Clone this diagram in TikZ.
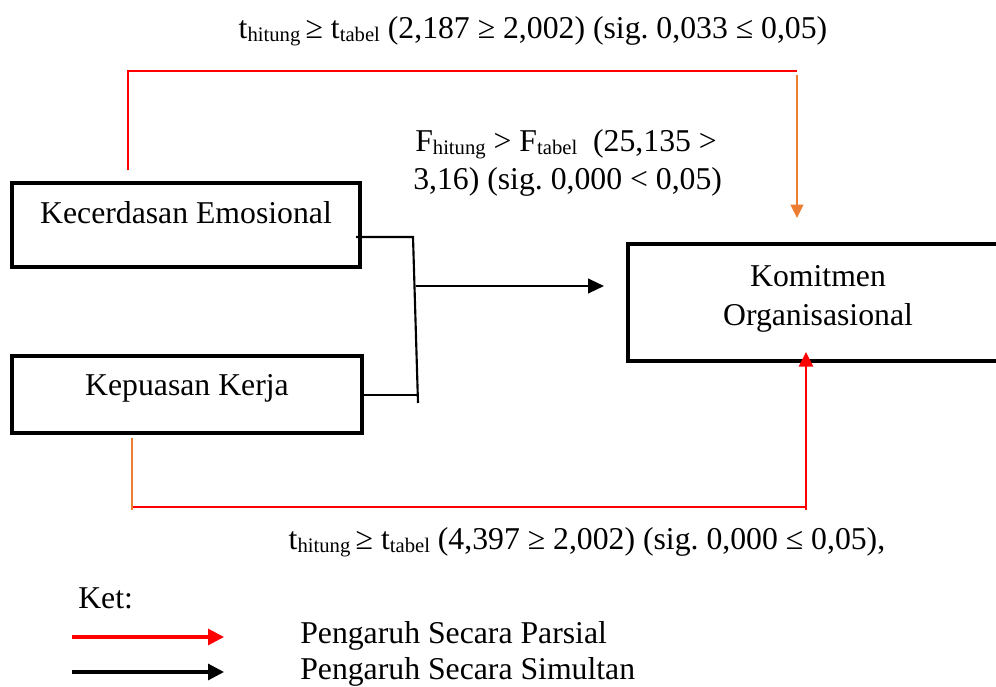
\documentclass[tikz,border=0pt]{standalone}
\usepackage{fontspec}
\setmainfont{Liberation Serif}
\usetikzlibrary{arrows.meta}
\definecolor{pred}{HTML}{FF0000}
\definecolor{porange}{HTML}{ED7D31}
\newcommand{\sbx}[1]{\raisebox{-0.22ex}{\fontsize{15.5}{16}\selectfont #1}}
\frenchspacing
\begin{document}
\begin{tikzpicture}[x=0.75pt,y=-0.75pt,
  box/.style={draw, line width=3pt, inner sep=0pt},
  txt/.style={inner sep=0pt, font=\fontsize{23.8}{28}\selectfont},
  blk/.style={draw=black, line width=1.6pt},
  redl/.style={draw=pred, line width=2.1pt},
  orl/.style={draw=porange, line width=1.4pt},
  tipb/.style={-{Triangle[length=12pt,width=11pt]}},
  tipo/.style={-{Triangle[length=10pt,width=9.5pt]}},
  tipr/.style={-{Triangle[length=11pt,width=10.5pt]}}]
\useasboundingbox (0,0) rectangle (996,686);
\clip (0,0) rectangle (996,686);
% boxes
\node[box, minimum width=261pt, minimum height=63pt] (ke) at (186,225) {};
\node[box, minimum width=262.5pt, minimum height=57.75pt] (kp) at (187,394.5) {};
\node[box, minimum width=285pt, minimum height=87.75pt] (km) at (818,302.5) {};
% box texts
\node[txt, anchor=base] (keT) at (186,223) {Kecerdasan Emosional};
\node[txt, anchor=base] (kpT) at (187,395) {Kepuasan Kerja};
\node[txt, anchor=base] (kmT1) at (818,286) {Komitmen};
\node[txt, anchor=base] (kmT2) at (818,325) {Organisasional};
% labels
\node[txt, anchor=base] (top) at (533,38) {t\sbx{hitung}\,≥ t\sbx{tabel} (2,187 ≥ 2,002) (sig. 0,033 ≤ 0,05)};
\node[txt, anchor=base west] (F1) at (415,151) {F\sbx{hitung} > F\sbx{tabel}\ \ (25,135 >};
\node[txt, anchor=base west] (F2) at (413,189) {3,16) (sig. 0,000 < 0,05)};
\node[txt, anchor=base] (bot) at (587,549) {t\sbx{hitung}\,≥ t\sbx{tabel} (4,397 ≥ 2,002) (sig. 0,000 ≤ 0,05),};
% simultaneous connector
\coordinate (a1) at (356,237);
\coordinate (j1) at (413,237);
\coordinate (j2) at (418,403);
\coordinate (b1) at (419,395);
\coordinate (m1) at (416,286);
\coordinate (m2) at (604,286);
\draw[blk] (a1) -- (j1) -- (j2);
\draw[blk] (kp.east |- b1) -- (b1);
\draw[blk, tipb] (m1) -- (m2);
% partial top
\coordinate (t1) at (128,170);
\coordinate (t2) at (128,71);
\coordinate (t3) at (797,71);
\coordinate (t4) at (797,75);
\coordinate (t5) at (797,218);
\draw[redl] (t1) -- (t2) -- (t3);
\draw[orl, tipo] (t4) -- (t5);
% partial bottom
\coordinate (u1) at (132,438);
\coordinate (u2) at (132,510);
\coordinate (u3) at (133,507);
\coordinate (u4) at (806,507);
\coordinate (u5) at (806,510);
\coordinate (u6) at (806,352);
\draw[draw=porange, line width=0.8pt] (u1) -- (u2);
\draw[redl] (u3) -- (u4);
\draw[redl, tipr] (u5) -- (u6);
% legend
\node[txt, anchor=base west] (ket) at (78,608) {Ket:};
\coordinate (l1) at (72,637);
\coordinate (l2) at (224,637);
\coordinate (l3) at (72,672);
\coordinate (l4) at (224,672);
\draw[redl, line width=2.3pt, -{Triangle[length=12pt,width=12pt]}] (l1) -- (l2);
\draw[blk, line width=2.3pt, -{Triangle[length=12pt,width=12pt]}] (l3) -- (l4);
\node[txt, anchor=base west] (lp) at (300,643) {Pengaruh Secara Parsial};
\node[txt, anchor=base west] (ls) at (300,679) {Pengaruh Secara Simultan};
\end{tikzpicture}
\end{document}
